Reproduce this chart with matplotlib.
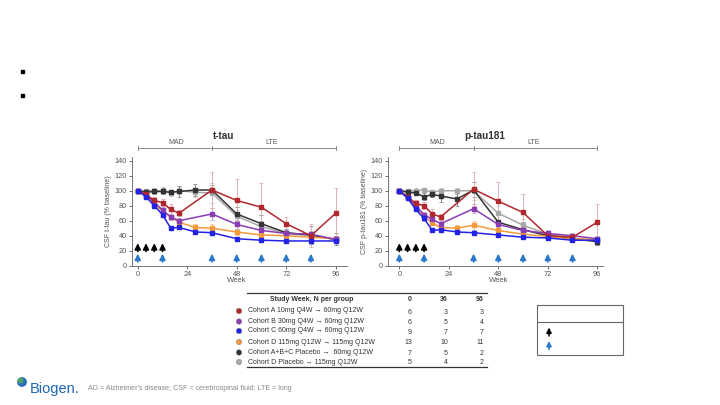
import matplotlib
matplotlib.use("Agg")
import matplotlib.pyplot as plt
from matplotlib.patches import Rectangle, Circle

plt.rcParams['font.family'] = ['Liberation Sans', 'DejaVu Sans']

# ---- data ----
weeks_full = [0, 4, 8, 12, 16, 20, 28, 36, 48, 60, 72, 84, 96]
weeks_short = [0, 4, 8, 12, 16, 20, 36, 48, 60, 72, 84, 96]

cohorts = ["Cohort A 10mg Q4W \u2192 60mg Q12W",
           "Cohort B 30mg Q4W \u2192 60mg Q12W",
           "Cohort C 60mg Q4W \u2192 60mg Q12W",
           "Cohort D 115mg Q12W \u2192 115mg Q12W",
           "Cohort A+B+C Placebo \u2192  60mg Q12W",
           "Cohort D Placebo \u2192 115mg Q12W"]
colors = ["#b0282d", "#8a3cb4", "#2323e6", "#f39a3c", "#333333", "#a8a8a8"]
err_colors = ["#dfb0b2", "#c9a9dc", "#a9a9f0", "#f7c99a", "#8c8c8c", "#c8c8c8"]
n_w0 = [6, 6, 9, 13, 7, 5]
n_w36 = [3, 5, 7, 10, 5, 4]
n_w96 = [3, 4, 7, 11, 2, 2]

# t-tau (% baseline)
ttau_A = [100, 95, 87, 84, 75, 70, 101, 87, 78, 56, 40, 70]
ttau_B = [100, 93, 85, 74, 65, 60, 69, 55, 47, 43, 42, 35]
ttau_C = [100, 92, 80, 68, 50, 51, 45, 44, 36, 34, 33, 33, 33]
ttau_D = [100, 93, 82, 73, 65, 58, 51, 50, 45, 41, 40, 38, 36]
ttau_P = [100, 98, 99, 99, 98, 99, 101, 101, 69, 56, 44, 41, 35]
ttau_PD = [100, 100, 100, 100, 97, 100, 98, 97, 66, 52, 43, 40, 35]
ttau_A_err = [0, 3, 4, 5, 7, 4, 24, 29, 32, 9, 15, 33]
ttau_B_err = [0, 2, 3, 4, 4, 4, 8, 6, 5, 4, 3, 4]
ttau_C_err = [0, 2, 2, 3, 2, 2, 2, 3, 2, 2, 2, 2, 2]
ttau_D_err = [0, 2, 3, 3, 3, 3, 4, 5, 4, 3, 3, 3, 3]
ttau_P_err = [0, 2, 3, 4, 3, 7, 8, 6, 9, 12, 5, 12, 8]
ttau_PD_err = [0, 2, 3, 5, 4, 5, 6, 13, 8, 8, 5, 6, 8]

# p-tau181 (% baseline)
ptau_A = [100, 92, 83, 80, 69, 65, 102, 86, 71, 40, 38, 58]
ptau_B = [100, 91, 80, 68, 62, 56, 76, 55, 47, 43, 40, 36]
ptau_C = [100, 90, 75, 63, 47, 48, 45, 44, 41, 38, 37, 34, 34]
ptau_D = [100, 90, 78, 66, 57, 51, 50, 54, 47, 42, 39, 36, 35]
ptau_P = [100, 98, 97, 92, 95, 93, 89, 101, 58, 48, 40, 36, 32]
ptau_PD = [100, 100, 100, 101, 98, 100, 100, 100, 70, 54, 42, 37, 33]
ptau_A_err = [0, 3, 4, 5, 6, 4, 23, 26, 25, 5, 5, 24]
ptau_B_err = [0, 2, 3, 4, 4, 4, 6, 5, 4, 3, 3, 4]
ptau_C_err = [0, 2, 2, 3, 2, 2, 2, 3, 2, 2, 2, 2, 2]
ptau_D_err = [0, 2, 3, 3, 3, 3, 4, 6, 4, 3, 3, 3, 3]
ptau_P_err = [0, 2, 3, 5, 4, 8, 10, 10, 9, 10, 5, 5, 4]
ptau_PD_err = [0, 2, 3, 3, 3, 3, 4, 12, 10, 8, 5, 5, 5]

black_arrow_weeks = [0, 4, 8, 12]
blue_arrow_weeks = [0, 12, 36, 48, 60, 72, 84]
xticks = [0, 24, 48, 72, 96]
yticks = [0, 20, 40, 60, 80, 100, 120, 140]

ARROW = '-|>,head_length=0.5,head_width=0.25'
BLUE = '#2b78c8'

fig = plt.figure(figsize=(7.2, 4.05), dpi=100)

# overlay in pixel coords for slide furniture
ov = fig.add_axes([0, 0, 1, 1])
ov.set_xlim(0, 720)
ov.set_ylim(405, 0)
ov.axis('off')


def panel(ax, series, errs, title, ylabel, xmin, xmax):
    order = [5, 4, 3, 1, 0, 2]
    for i in order:
        w = weeks_short if len(series[i]) == 12 else weeks_full
        ax.errorbar(w, series[i], yerr=errs[i], color=colors[i], ecolor=err_colors[i],
                    elinewidth=0.7, capsize=1.3, capthick=0.6, lw=1.1,
                    marker='s', ms=2.4, zorder=3)
    for w in black_arrow_weeks:
        ax.annotate('', xy=(w, 30), xytext=(w, 19),
                    arrowprops=dict(arrowstyle=ARROW, color='black', lw=1.2,
                                    mutation_scale=7, shrinkA=0, shrinkB=0))
    for w in blue_arrow_weeks:
        ax.annotate('', xy=(w, 16), xytext=(w, 5),
                    arrowprops=dict(arrowstyle=ARROW, color=BLUE, lw=1.2,
                                    mutation_scale=7, shrinkA=0, shrinkB=0))
    ax.set_xlim(xmin, xmax)
    ax.set_ylim(0, 145)
    ax.set_xticks(xticks)
    ax.set_yticks(yticks)
    ax.tick_params(labelsize=5.3, length=2, width=0.6, colors='#555555', pad=1.5)
    for s in ['top', 'right']:
        ax.spines[s].set_visible(False)
    for s in ['left', 'bottom']:
        ax.spines[s].set_color('#777777')
        ax.spines[s].set_linewidth(0.7)
    ax.set_ylabel(ylabel, fontsize=5, color='#555555', labelpad=2)
    ax.text(48, -15, 'Week', fontsize=5.5, color='#555555', ha='center', va='top')
    # MAD / LTE bracket
    ax.plot([0, 96], [157, 157], color='#777777', lw=0.6, clip_on=False)
    for w in [0, 36, 96]:
        ax.plot([w, w], [154.5, 159.5], color='#777777', lw=0.6, clip_on=False)
    ax.text(18.5, 160, 'MAD', fontsize=5, color='#555555', ha='center', va='bottom')
    ax.text(65, 160, 'LTE', fontsize=5, color='#555555', ha='center', va='bottom')
    ax.text(41.5, 166, title, fontsize=7.2, fontweight='bold', color='#333333',
            ha='center', va='bottom')


ax1 = fig.add_axes([132 / 720, (405 - 265.7) / 405, 215 / 720, 108.7 / 405])
panel(ax1, [ttau_A, ttau_B, ttau_C, ttau_D, ttau_P, ttau_PD],
      [ttau_A_err, ttau_B_err, ttau_C_err, ttau_D_err, ttau_P_err, ttau_PD_err],
      't-tau', 'CSF t-tau (% baseline)', -2.8, 101.5)

ax2 = fig.add_axes([388 / 720, (405 - 265.7) / 405, 215 / 720, 108.7 / 405])
panel(ax2, [ptau_A, ptau_B, ptau_C, ptau_D, ptau_P, ptau_PD],
      [ptau_A_err, ptau_B_err, ptau_C_err, ptau_D_err, ptau_P_err, ptau_PD_err],
      'p-tau181', 'CSF p-tau181 (% baseline)', -5.5, 98.8)

# bullets
for y in [71, 95]:
    ov.add_patch(Rectangle((20.5, y - 1.5), 3, 3, color='black'))

# N-per-group table
ov.plot([247, 487], [293, 293], color='#333333', lw=0.9)
ov.plot([247, 487], [367, 367], color='#333333', lw=0.9)
ov.text(312, 299.5, 'Study Week, N per group', fontsize=5.0, fontweight='bold',
        color='#333333', ha='center', va='center')
for x, lab in zip([412, 448, 484], ['0', '36', '96']):
    ov.text(x, 299.5, lab, fontsize=5.0, fontweight='bold', color='#333333',
            ha='right', va='center')
row_y = [311, 321.5, 331, 342, 352.5, 362]
for i, y in enumerate(row_y):
    ov.add_patch(Circle((239, y), 2.8, color=colors[i], ec='#888888', lw=0.3))
    ov.text(248, y, cohorts[i], fontsize=5.0, color='#333333', va='center')
    for x, n in zip([412, 448, 484], [n_w0[i], n_w36[i], n_w96[i]]):
        ov.text(x, y + 1, str(n), fontsize=5.0, color='#333333', ha='right', va='center')

# small dosing-key box
ov.add_patch(Rectangle((537, 305), 86, 50, fill=False, ec='#666666', lw=0.8))
ov.plot([537, 623], [321.5, 321.5], color='#666666', lw=0.8)
ov.annotate('', xy=(549, 327.5), xytext=(549, 336),
            arrowprops=dict(arrowstyle=ARROW, color='black', lw=1.1,
                            mutation_scale=6, shrinkA=0, shrinkB=0))
ov.annotate('', xy=(549, 341), xytext=(549, 349.5),
            arrowprops=dict(arrowstyle=ARROW, color=BLUE, lw=1.1,
                            mutation_scale=6, shrinkA=0, shrinkB=0))

# logo and footer
ov.add_patch(Circle((22, 382), 4.2, color='#2a6fb8'))
ov.add_patch(Circle((20.5, 380.5), 2.2, color='#58b05a', alpha=0.8))
ov.text(29.5, 388.5, 'Biogen.', fontsize=10.5, color='#1e66b0', va='center')
ov.text(88, 389, "AD = Alzheimer's disease; CSF = cerebrospinal fluid; LTE = long",
        fontsize=5.1, color='#888888', va='center')

fig.savefig('out.png', dpi=100)
